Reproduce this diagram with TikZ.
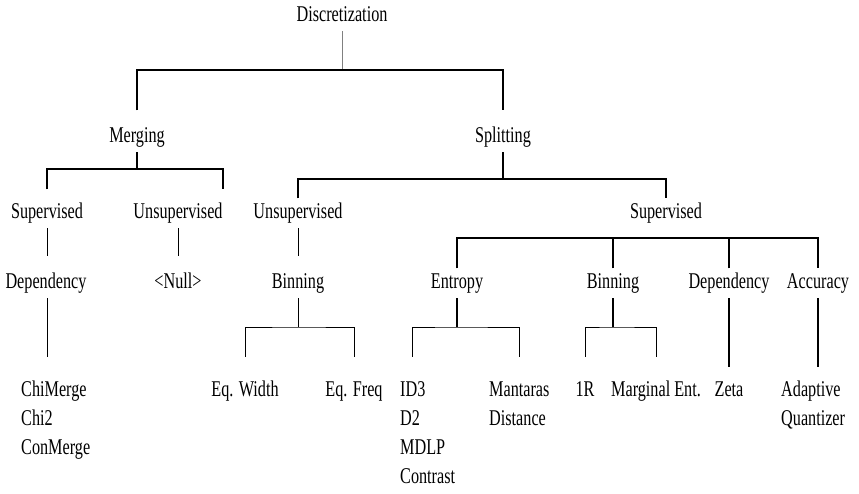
\documentclass[tikz,border=0pt]{standalone}
\usepackage{fontspec}
\setmainfont{Liberation Serif}[FakeStretch=0.72]
\usepackage{tikz}
\newcommand{\tfont}{\fontsize{22.5bp}{29bp}\selectfont}

\begin{document}
\begin{tikzpicture}[x=1bp, y=-1bp,
	  lbl/.style={font=\tfont, inner xsep=0pt, inner ysep=0pt, text height=15.5bp, text depth=4.5bp, outer ysep=5bp, anchor=base},
	  leaf/.style={lbl, anchor=base west},
	  hi/.style={line width=1.6bp},
	  lo/.style={line width=0.9bp},
	  gapend/.style={shorten >=#1, shorten <=#1}]
	  \useasboundingbox (0,0) rectangle (859,494);
	  % levels
	  \node [lbl] (disc) at (342,22) {Discretization};
	  \node [lbl] (merg) at (137,143) {Merging};
	  \node [lbl] (splt) at (503,143) {Splitting};
	  \node [lbl] (sup1) at (47,219) {Supervised};
	  \node [lbl] (uns1) at (178,219) {Unsupervised};
	  \node [lbl] (uns2) at (298,219) {Unsupervised};
	  \node [lbl] (sup2) at (666,219) {Supervised};
	  \node [lbl] (dep1) at (46,289) {Dependency};
	  \node [lbl] (null) at (178,289) {<Null>};
	  \node [lbl] (bin1) at (298,289) {Binning};
	  \node [lbl] (ent) at (457,289) {Entropy};
	  \node [lbl] (bin2) at (613,289) {Binning};
	  \node [lbl] (dep2) at (729,289) {Dependency};
	  \node [lbl] (acc) at (818,289) {Accuracy};
	  % methods
	  \node [leaf] (chim) at (21,396) {ChiMerge};
	  \node [leaf] (chi2) at (21,425.3) {Chi2};
	  \node [leaf] (conm) at (21,454.6) {ConMerge};
	  \node [lbl] (eqw) at (245,396) {Eq. Width};
	  \node [lbl] (eqf) at (354,396) {Eq. Freq};
	  \node [leaf] (id3) at (400,396) {ID3};
	  \node [leaf] (d2) at (400,425.3) {D2};
	  \node [leaf] (mdlp) at (400,454.6) {MDLP};
	  \node [leaf] (ctr) at (400,483.9) {Contrast};
	  \node [leaf] (mant) at (489,396) {Mantaras};
	  \node [leaf] (dist) at (489,425.3) {Distance};
	  \node [lbl] (oner) at (585,396) {1R};
	  \node [lbl] (marg) at (656,396) {Marginal Ent.};
	  \node [lbl] (zeta) at (729,396) {Zeta};
	  \node [leaf] (adap) at (781,396) {Adaptive};
	  \node [leaf] (quan) at (781,425.3) {Quantizer};
	  % bar heights
	  \coordinate (jtop) at (342,70);
	  \coordinate (jmerg) at (137,169);
	  \coordinate (jsplt) at (503,179);
	  \coordinate (jsup) at (666,238);
	  \coordinate (jbin1) at (298,327);
	  \coordinate (jent) at (457,327);
	  \coordinate (jbin2) at (613,327);
	  % connectors
	  \draw [lo, gray] (disc) -- (disc |- jtop);
	  \draw [hi, gapend=12bp] (merg.north) |- (jtop) -| (splt.north);
	  \draw [hi] (merg) -- (merg |- jmerg);
	  \draw [hi, gapend=9bp] (sup1.north) |- (jmerg) -| (uns1.north east);
	  \draw [hi] (splt) -- (splt |- jsplt);
	  \draw [hi] (uns2.north) |- (jsplt) -| (sup2.north);
	  \draw [lo, shorten >=12bp] (sup1) -- (sup1 |- dep1.north);
	  \draw [lo, shorten >=12bp] (uns1) -- (null);
	  \draw [lo, shorten >=12bp] (uns2) -- (bin1);
	  \draw [hi] (ent.north) |- (jsup) -| (acc.north);
	  \draw [hi] (bin2) -- (bin2 |- jsup);
	  \draw [hi] (dep2) -- (dep2 |- jsup);
	  \draw [lo, shorten >=19bp] (dep1.south -| sup1) -- (sup1 |- chim.north);
	  \draw [lo] (bin1) -- (bin1 |- jbin1);
	  \draw [lo, gapend=19bp] (eqw.north) |- (jbin1) -| (eqf.north);
	  \draw [hi] (ent) -- (ent |- jent);
	  \draw [lo, gapend=19bp] (id3.north) |- (jent) -| (mant.north);
	  \draw [hi] (bin2) -- (bin2 |- jbin2);
	  \draw [lo, gapend=19bp] (oner.north) |- (jbin2) -| (marg.north);
	  \draw [hi, shorten >=9bp] (dep2) -- (zeta);
	  \draw [hi, shorten >=9bp] (acc) -- (acc |- adap.north);
	 \end{tikzpicture}
\end{document}
